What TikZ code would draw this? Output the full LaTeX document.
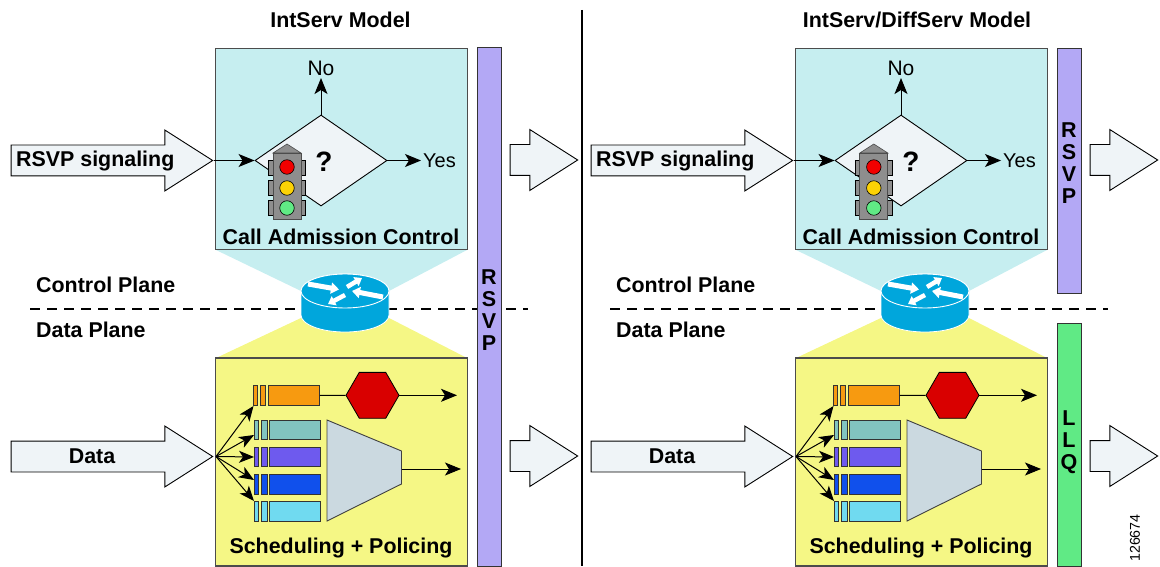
\documentclass[tikz,border=0pt]{standalone}
\usepackage{fontspec}
\setmainfont{Liberation Sans}
\usepackage{tikz}
\usetikzlibrary{arrows.meta,shapes.geometric,shapes.arrows}
\definecolor{ctrlcyan}{HTML}{C6EEF0}
\definecolor{dataylw}{HTML}{F5F785}
\definecolor{barpurple}{HTML}{B3A8F5}
\definecolor{bargreen}{HTML}{60EA85}
\definecolor{arrowfill}{HTML}{EFF4F7}
\definecolor{routerblue}{HTML}{00A6DC}
\definecolor{qorange}{HTML}{F79A10}
\definecolor{qteal}{HTML}{82C4C0}
\definecolor{qviolet}{HTML}{6E5AEE}
\definecolor{qblue}{HTML}{1050EC}
\definecolor{qsky}{HTML}{70DAF0}
\definecolor{muxgray}{HTML}{CBD9E0}
\definecolor{lightgray}{HTML}{8E8E8E}
\tikzset{
  lbl/.style={inner sep=0pt, font=\fontsize{21.4}{22}\selectfont\bfseries},
  plain/.style={inner sep=2pt, font=\fontsize{20}{22}\selectfont},
  flow/.style={-{Stealth[length=16pt,width=13pt,inset=4pt]}, line width=1pt},
  fanflow/.style={-{Stealth[length=15pt,width=12pt,inset=4pt]}, line width=1pt},
  fat/.style={single arrow, anchor=tip, draw=black, line width=0.9pt, fill=arrowfill, inner sep=0pt,
    text height=30pt, text depth=0pt, minimum width=60, single arrow head extend=15, single arrow tip angle=65},
  panelbox/.style={draw=black!70, line width=1.2pt, minimum width=252, minimum height=#1, inner sep=0pt},
  bar/.style={draw=black!80, line width=1pt, minimum width=24, inner sep=0pt},
  bartxt/.style={inner sep=0pt, align=center, font=\fontsize{21.5}{22}\selectfont\bfseries},
  slot/.style={draw=black!80, line width=0.9pt, inner sep=0pt, minimum height=19.5},
  lamp/.style={circle, draw=black, line width=0.6pt, minimum size=14.5, inner sep=0pt},
  hood/.style={draw=black, line width=0.6pt, fill=lightgray, minimum width=4.5, minimum height=15, inner sep=0pt},
  plane/.style={dashed, dash pattern=on 10pt off 7pt, line width=2pt},
  qospanel/.pic={
    \fill[ctrlcyan] (216,250) -- (467,250) -- (389,291) -- (301,291) -- cycle;
    \fill[dataylw] (216,358) -- (467,358) -- (389,318) -- (301,318) -- cycle;
    \node[panelbox=201, fill=ctrlcyan] (-ctrl) at (341.5,149) {};
    \node[panelbox=208, fill=dataylw] (-data) at (341.5,462) {};
    \node[lbl, anchor=base] (-ctrltxt) at (341,244.5) {Call Admission Control};
    \node[lbl, anchor=base] (-datatxt) at (341,553.5) {Scheduling + Policing};
    \node[lbl, anchor=base west] (-cplane) at (36,292) {Control Plane};
    \node[lbl, anchor=base west] (-dplane) at (36,337) {Data Plane};
    \coordinate (-dl) at (30,309);
    \coordinate (-dr) at (528,309);
    \draw[plane] (-dl) -- (-dr);
    % input and output
    \node[fat, minimum height=201.5] (-sig) at (213.5,160.5) {};
    \node[fat, minimum height=201.5] (-in) at (213.5,456.5) {};
    \node[fat, minimum height=67.5] (-outa) at (578.5,160) {};
    \node[fat, minimum height=67.5] (-outb) at (578.5,456) {};
    \node[lbl, anchor=base west] (-sigtxt) at (16,167) {RSVP signaling};
    \node[lbl, anchor=base] (-intxt) at (92,463) {Data};
    % admission decision
    \node[diamond, draw=black, line width=0.9pt, fill=arrowfill, inner sep=0pt, aspect=1.45,
      minimum width=132, minimum height=91] (-ask) at (321,160.5) {};
    \node[plain, font=\fontsize{21}{22}\selectfont] (-no) at (321,68.5) {No};
    \node[plain, anchor=west] (-yes) at (421,160.5) {Yes};
    \path[flow]
      (-sig.tip) edge (-ask.west)
      (-ask.north) edge (-no.south)
      (-ask.east) edge (-yes.west);
    \begin{scope}[shift={(#1,0)}]
      \node[lbl, font=\fontsize{28}{28}\selectfont\bfseries] (-qm) at (324,162) {?};
      \foreach \hy in {167.5,187.5,207.5}
        {
        \node[hood] at (271,\hy) {};
        \node[hood] at (303,\hy) {};
        }
      \fill[lightgray, draw=black!70, line width=0.6pt] (273,153) -- (287,144) -- (301,153) -- cycle;
      \node[draw=black!70, line width=0.8pt, fill=lightgray, minimum width=28, minimum height=66, inner sep=0pt] (-pole) at (287,186) {};
      \node[lamp, fill=red!95!black] (-red) at (287,167) {};
      \node[lamp, fill=yellow!70!orange] (-amber) at (287,188) {};
      \node[lamp, fill=bargreen] (-green) at (287,208) {};
    \end{scope}
    % router
    \fill[routerblue, draw=white, line width=0.8pt] (301,291) -- (301,315) arc[start angle=180, end angle=360, x radius=44, y radius=-17] -- (389,291)
      arc[start angle=0, end angle=180, x radius=44, y radius=-17] -- cycle;
    \draw[white, line width=0.9pt, fill=routerblue] (345,291) ellipse[x radius=44, y radius=17];
    \draw[-{Triangle[length=8pt,width=11pt]}, white, line width=5pt]
      (308,284) -- (339,289.5);
    \draw[-{Triangle[length=7pt,width=10pt]}, white, line width=4.5pt]
      (347,287) -- (362,278);
    \draw[-{Triangle[length=8pt,width=11pt]}, white, line width=5pt]
      (383,297) -- (352,291);
    \draw[-{Triangle[length=7pt,width=10pt]}, white, line width=4.5pt]
      (345,295) -- (328,304);
    % queues
    \coordinate (-fan) at (216,456.5);
    \coordinate (-t0) at (253.5,406);
    \node[slot, fill=qorange, minimum width=3.5] (-oa) at (255.2,395.5) {};
    \node[slot, fill=qorange, minimum width=5] (-ob) at (263,395.5) {};
    \node[slot, fill=qorange, minimum width=51] (-oc) at (294,395.5) {};
    \foreach \qn/\qy/\qcol/\ty in {1/430/qteal/435,2/457/qviolet/457,3/484.5/qblue/480,4/511.5/qsky/501}
      {
      \node[slot, fill=\qcol, minimum width=3.5] at (256.3,\qy) {};
      \node[slot, fill=\qcol, minimum width=5.5] at (264.3,\qy) {};
      \node[slot, fill=\qcol, minimum width=51] at (295,\qy) {};
      \coordinate (-t\qn) at (254,\ty);
      }
    \path[fanflow]
      (-fan) edge (-t0)
      (-fan) edge (-t1)
      (-fan) edge (-t2)
      (-fan) edge (-t3)
      (-fan) edge (-t4);
    % policer and scheduler
    \node[regular polygon, regular polygon sides=6, draw=black, line width=0.8pt,
      fill=red!85!black, minimum size=53, inner sep=0pt] (-hex) at (372.5,395.3) {};
    \coordinate (-outp) at (457,395.3);
    \draw[line width=1pt] (-oc.east) -- (-hex.west);
    \path[flow] (-hex.east) edge (-outp);
    \draw[draw=black!75, line width=0.9pt, fill=muxgray] (327,420) -- (401.5,451) -- (401.5,484) -- (327,521) -- cycle;
    \coordinate (-muxo) at (401.5,469);
    \coordinate (-outm) at (461,469);
    \path[flow] (-muxo) edge (-outm);
  }
}

\begin{document}
\begin{tikzpicture}[x=1pt, y=-1pt]
  \useasboundingbox (0,0) rectangle (1160,567);
  \pic (ints) at (0,0) {qospanel=0};
  \pic (diff) at (580,0) {qospanel=6.8};
  \node[lbl, anchor=base] (inttitle) at (340.5,28) {IntServ Model};
  \node[lbl, anchor=base] (difftitle) at (917,28) {IntServ/DiffServ Model};
  \coordinate (divtop) at (582,10);
  \coordinate (divbot) at (582,566);
  \draw[line width=1.6pt] (divtop) -- (divbot);
  \node[bar, fill=barpurple, minimum height=518] (rsvpa) at (489,307) {};
  \node[bar, fill=barpurple, minimum height=244] (rsvpb) at (1069,171) {};
  \node[bar, fill=bargreen, minimum height=243] (llq) at (1069,444.5) {};
  \node[bartxt] (rsvpatxt) at (489,310) {R\\S\\V\\P};
  \node[bartxt] (rsvpbtxt) at (1069,163) {R\\S\\V\\P};
  \node[bartxt] (llqtxt) at (1069,442) {L\\L\\Q};
  \node[inner sep=0pt, rotate=90, font=\fontsize{14.2}{16}\selectfont] (fignum) at (1135,538) {126674};
\end{tikzpicture}
\end{document}
